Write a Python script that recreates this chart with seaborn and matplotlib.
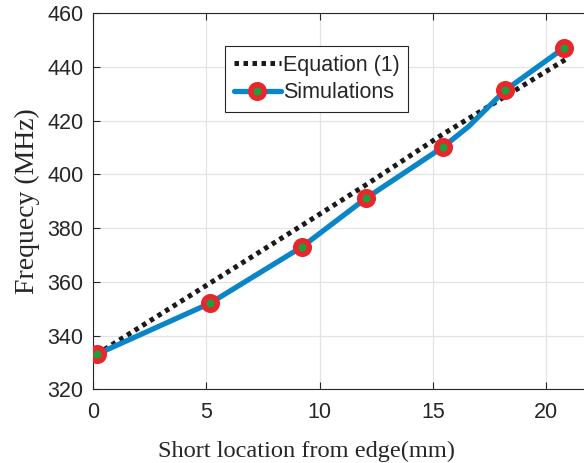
import matplotlib
matplotlib.use("Agg")
import matplotlib.pyplot as plt
from matplotlib.lines import Line2D
import seaborn as sns
import pandas as pd

# Data
eq_x = [0.16, 5.16, 9.22, 12.03, 15.45, 18.19, 21.0]
eq_y = [333.0, 359.5, 381.0, 396.0, 415.0, 429.0, 443.5]

sim_x = [0.16, 5.16, 9.22, 12.03, 15.45, 18.19, 20.79]
sim_y = [333.0, 352.0, 373.0, 391.0, 410.2, 431.3, 447.1]

# simulation curve (includes one unmarked intermediate point)
sim_line_x = [0.16, 5.16, 9.22, 12.03, 15.45, 16.56, 18.19, 20.79]
sim_line_y = [333.0, 352.0, 373.0, 391.0, 410.2, 417.7, 431.3, 447.1]

x_ticks = [0, 5, 10, 15, 20]
y_ticks = [320, 340, 360, 380, 400, 420, 440, 460]

sns.set_style("whitegrid")
plt.rcParams['font.family'] = ['Liberation Sans', 'DejaVu Sans']

fig = plt.figure(figsize=(5.84, 4.63), dpi=100)
ax = fig.add_axes([93/584, 1 - 389.3/463, 1 - 93/584, (389.3 - 13)/463])

df_eq = pd.DataFrame({"x": eq_x, "y": eq_y})
df_line = pd.DataFrame({"x": sim_line_x, "y": sim_line_y})
df_sim = pd.DataFrame({"x": sim_x, "y": sim_y})

dot_style = (0, (0.9, 0.9))
blue = "#0a86c8"
mk = dict(marker="o", markersize=9.8, markerfacecolor="#1f9e3c",
          markeredgecolor="#e8262b", markeredgewidth=3.9)

sns.lineplot(data=df_eq, x="x", y="y", ax=ax, color="#1a1a1a", lw=3.6,
             linestyle=dot_style, zorder=3, legend=False)
sns.lineplot(data=df_line, x="x", y="y", ax=ax, color=blue, lw=3.8,
             zorder=4, legend=False)
ax.plot(df_sim["x"], df_sim["y"], linestyle="none", zorder=5, **mk)

ax.set_xlim(0, 21.66)
ax.set_ylim(320, 460)
ax.set_xticks(x_ticks)
ax.set_yticks(y_ticks)
ax.tick_params(axis="both", labelsize=15.5, colors="#262626", direction="in",
               length=5, width=0.8, top=True, bottom=True, left=True, right=False)
ax.tick_params(axis="x", pad=9)
ax.tick_params(axis="y", pad=7)
ax.grid(True, color="#e3e3e6", lw=0.9)
for side in ["left", "bottom", "top"]:
    ax.spines[side].set_visible(True)
    ax.spines[side].set_color("#262626")
    ax.spines[side].set_linewidth(0.8)
ax.spines["right"].set_visible(False)

ax.set_xlabel("Short location from edge(mm)", family=["Liberation Serif"],
              fontsize=17.6, color="#262626")
ax.xaxis.set_label_coords((306 - 93) / 491, -(441 - 389.3) / 376.3)
ax.set_ylabel("Frequecy (MHz)", family=["Liberation Serif"],
              fontsize=20, color="#262626", labelpad=5)

h_eq = Line2D([], [], color="#1a1a1a", lw=3.6, linestyle=dot_style)
h_sim = Line2D([], [], color=blue, lw=3.8, **mk)
leg = ax.legend([h_eq, h_sim], ["Equation (1)", "Simulations"],
                loc="upper left", bbox_to_anchor=(225/584, 1 - 46/463),
                bbox_transform=fig.transFigure, fontsize=15.5, frameon=True,
                fancybox=False, framealpha=1, edgecolor="#262626",
                handlelength=2.2, handletextpad=0.1, borderpad=0.4,
                labelspacing=0.3, borderaxespad=0)
leg.get_frame().set_linewidth(0.8)
for t in leg.get_texts():
    t.set_color("#262626")

fig.savefig("out.png", dpi=100)
